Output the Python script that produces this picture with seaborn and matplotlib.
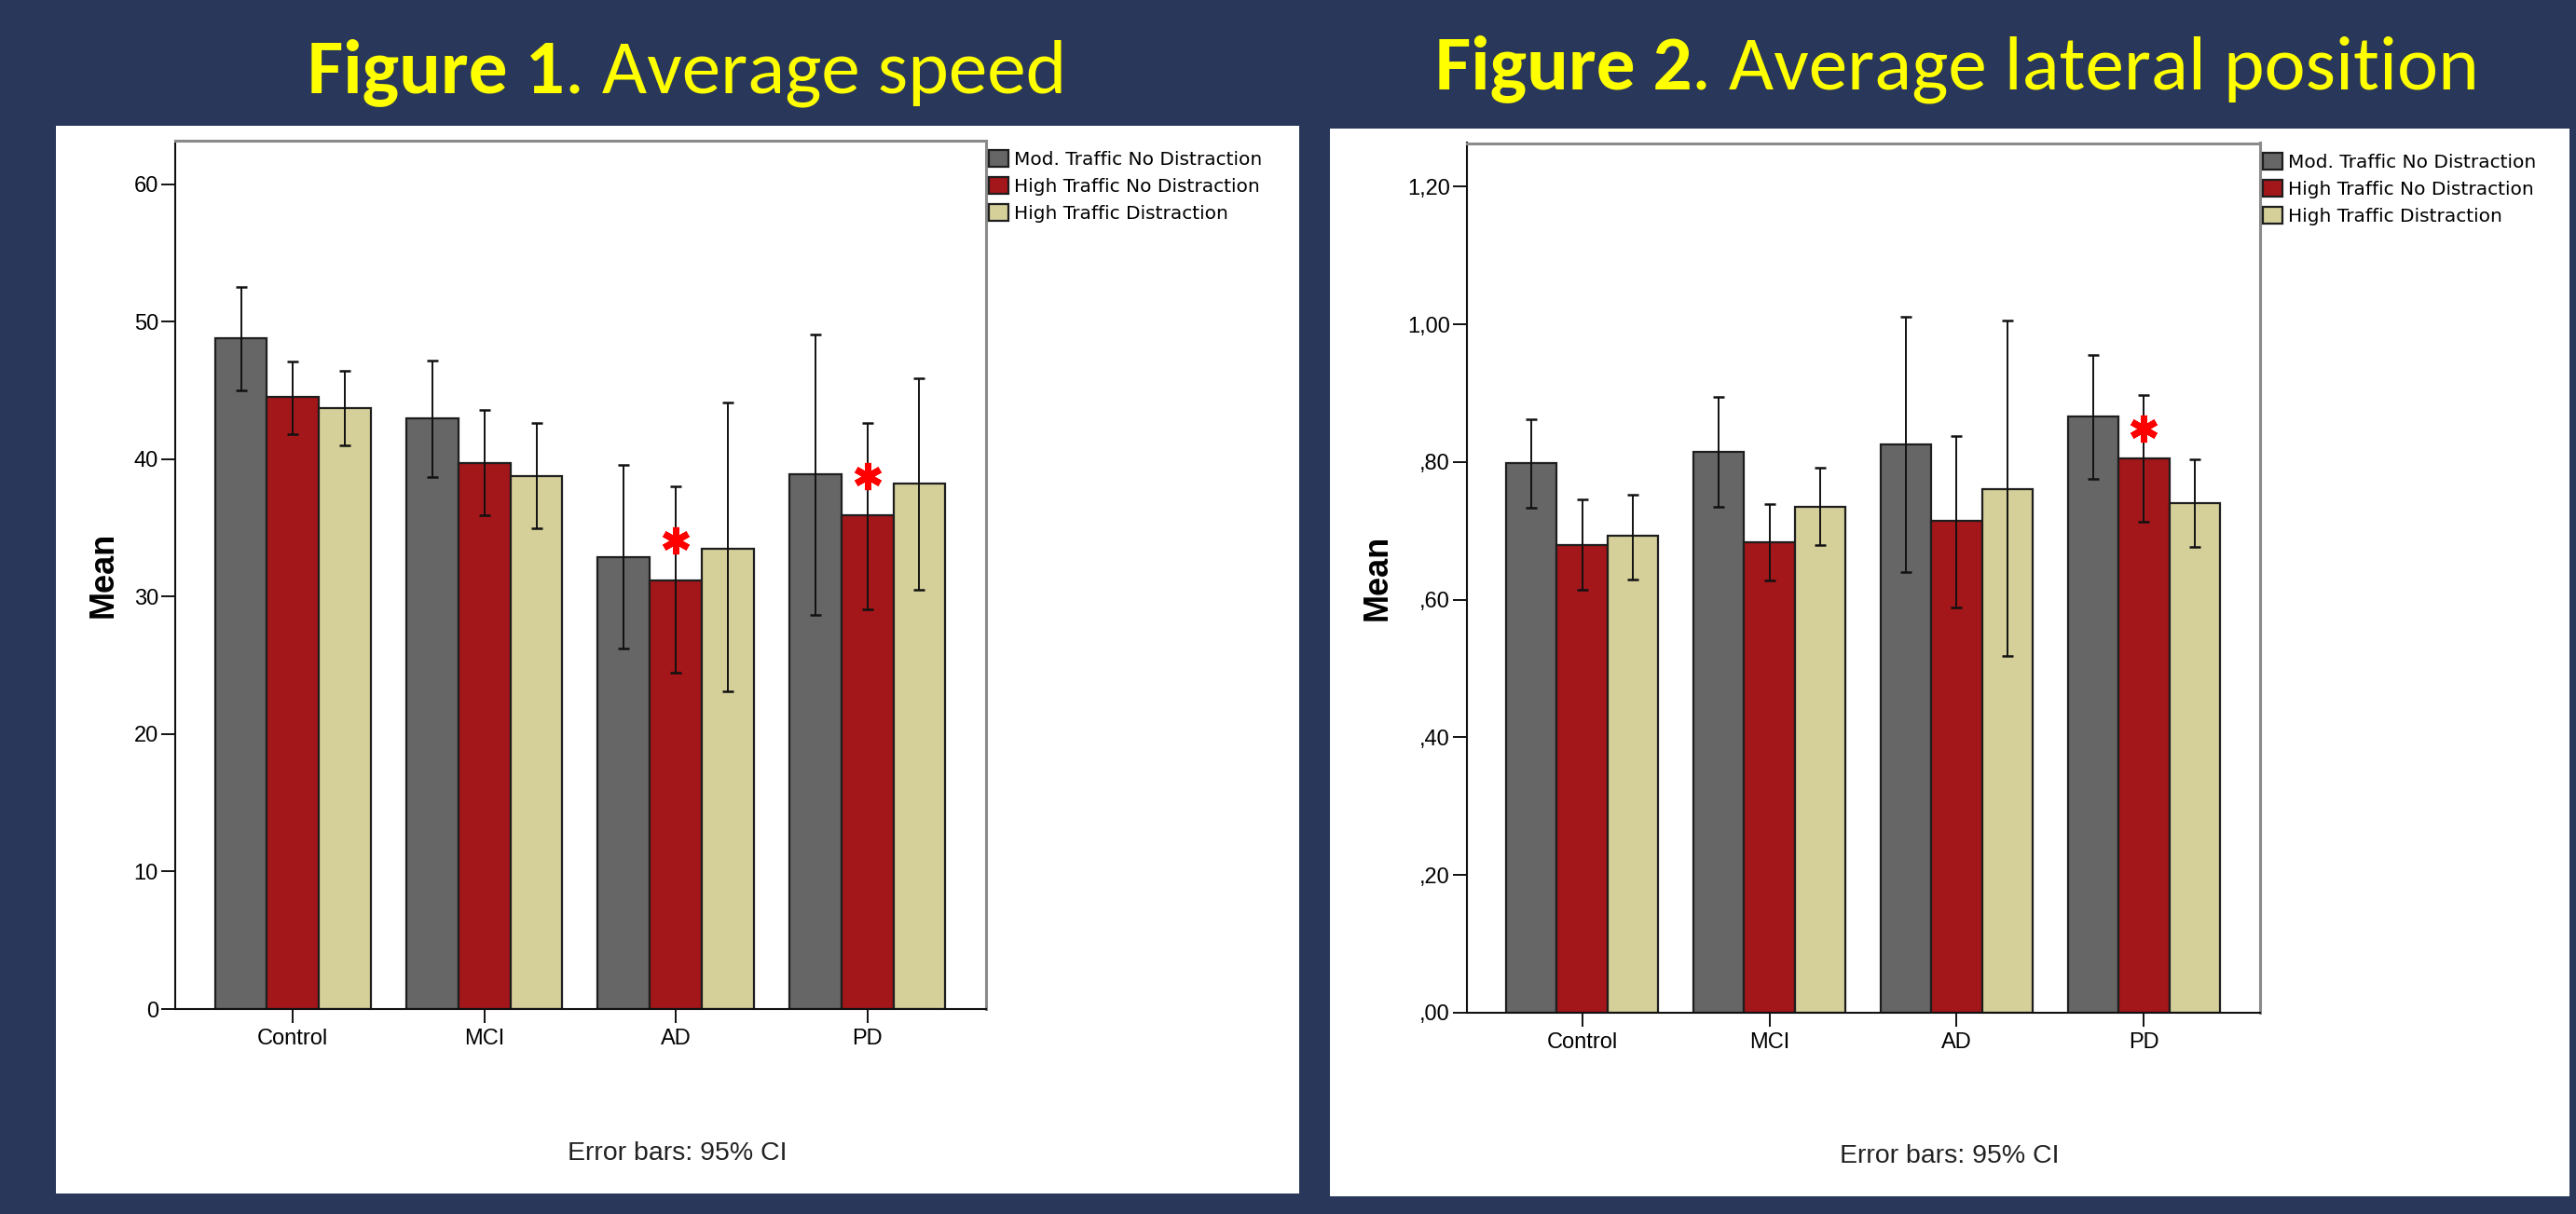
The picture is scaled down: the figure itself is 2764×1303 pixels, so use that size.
import matplotlib
matplotlib.use('Agg')
import matplotlib.pyplot as plt
import seaborn as sns
import pandas as pd
import numpy as np
from matplotlib import font_manager
from matplotlib.patches import Rectangle

groups = ['Control', 'MCI', 'AD', 'PD']
conds = ['Mod. Traffic No Distraction', 'High Traffic No Distraction', 'High Traffic Distraction']

# Figure 1 - average speed (mean, lower / upper 95% CI)
speed_mod = [48.8, 43.0, 32.9, 38.9]
speed_mod_lo = [45.0, 38.7, 26.2, 28.7]
speed_mod_hi = [52.5, 47.2, 39.6, 49.1]
speed_high = [44.5, 39.7, 31.2, 35.9]
speed_high_lo = [41.8, 35.9, 24.5, 29.1]
speed_high_hi = [47.1, 43.6, 38.0, 42.6]
speed_dist = [43.7, 38.8, 33.5, 38.2]
speed_dist_lo = [41.0, 35.0, 23.1, 30.5]
speed_dist_hi = [46.4, 42.6, 44.1, 45.9]
speed_ticks = [0, 10, 20, 30, 40, 50, 60]
speed_ticklabels = ['0', '10', '20', '30', '40', '50', '60']
speed_stars = ['AD', 'PD']

# Figure 2 - average lateral position
lat_mod = [0.798, 0.815, 0.826, 0.866]
lat_mod_lo = [0.733, 0.735, 0.640, 0.775]
lat_mod_hi = [0.862, 0.894, 1.011, 0.956]
lat_high = [0.680, 0.683, 0.714, 0.805]
lat_high_lo = [0.614, 0.628, 0.589, 0.713]
lat_high_hi = [0.746, 0.739, 0.838, 0.898]
lat_dist = [0.693, 0.735, 0.761, 0.740]
lat_dist_lo = [0.630, 0.680, 0.519, 0.677]
lat_dist_hi = [0.753, 0.792, 1.005, 0.804]
lat_ticks = [0.0, 0.2, 0.4, 0.6, 0.8, 1.0, 1.2]
lat_ticklabels = [',00', ',20', ',40', ',60', ',80', '1,00', '1,20']
lat_stars = ['PD']

names = {f.name for f in font_manager.fontManager.ttflist}
NARROW = 'Liberation Sans Narrow' if 'Liberation Sans Narrow' in names else 'Liberation Sans'
TITLE_FONT = 'Carlito' if 'Carlito' in names else 'Lato'
TICK_SIZE = 18 if NARROW == 'Liberation Sans Narrow' else 17
NOTE_SIZE = 23 if NARROW == 'Liberation Sans Narrow' else 20.5

BG = '#28375A'
colors = ['#666666', '#A3161A', '#D5CF99']

W, H = 2764, 1303
fig = plt.figure(figsize=(W / 100, H / 100), dpi=100, facecolor=BG)

# white slide panels
fig.add_artist(Rectangle((60 / W, 1 - 1281 / H), 1334 / W, 1146 / H, transform=fig.transFigure,
                         facecolor='white', edgecolor='none', zorder=-1))
fig.add_artist(Rectangle((1427 / W, 1 - 1284 / H), 1330 / W, 1146 / H, transform=fig.transFigure,
                         facecolor='white', edgecolor='none', zorder=-1))

ax1 = fig.add_axes([188 / W, 1 - 1083 / H, 870 / W, 932.5 / H])
ax2 = fig.add_axes([1574 / W, 1 - 1087 / H, 851 / W, 933.5 / H])


def draw_panel(ax, means, los, his, ytop, ticks, ticklabels, stars, star_gap, label_x):
    df = pd.DataFrame({'group': groups * 3,
                       'cond': [c for c in conds for _ in groups],
                       'mean': means[0] + means[1] + means[2]})
    sns.barplot(data=df, x='group', y='mean', hue='cond', order=groups, hue_order=conds,
                palette=colors, saturation=1, width=0.815, errorbar=None,
                edgecolor='#1e1e1e', linewidth=1.6, legend=False, ax=ax)
    bars = list(ax.containers)
    for i, cont in enumerate(bars):
        xs = [p.get_x() + p.get_width() / 2 for p in cont.patches]
        yerr = [np.subtract(means[i], los[i]), np.subtract(his[i], means[i])]
        ax.errorbar(xs, means[i], yerr=yerr, fmt='none', ecolor='#111111',
                    elinewidth=1.4, capsize=4.5, capthick=1.8, zorder=5)
    # significance asterisks on the high-traffic series
    red = bars[1].patches
    for g in stars:
        p = red[groups.index(g)]
        ax.plot(p.get_x() + p.get_width() / 2, p.get_height() + star_gap,
                marker=(6, 2, 0), markersize=21, mew=5, color='#FF0000', zorder=6)

    ax.set_xlim(-0.615, 3.62)
    ax.set_ylim(0, ytop)
    ax.set_yticks(ticks)
    ax.set_yticklabels(ticklabels, fontfamily=NARROW, fontsize=TICK_SIZE)
    ax.set_xticks(range(len(groups)))
    ax.set_xticklabels(groups, fontfamily=NARROW, fontsize=TICK_SIZE)
    ax.tick_params(axis='both', direction='out', length=11, width=1.4, pad=2, color='#111111')
    ax.tick_params(axis='x', pad=4)
    ax.set_xlabel('')
    ax.set_ylabel('Mean', fontfamily='Liberation Sans', fontweight='bold', fontsize=26)
    ax.yaxis.set_label_coords(label_x, 0.5)
    ax.set_facecolor('white')
    for s in ['left', 'bottom']:
        ax.spines[s].set_color('#111111')
        ax.spines[s].set_linewidth(1.5)
    for s in ['top', 'right']:
        ax.spines[s].set_color('#8a8a8a')
        ax.spines[s].set_linewidth(2.2)

    handles = [c.patches[0] for c in bars]
    ax.legend(handles, conds, loc='upper left', bbox_to_anchor=(1.004, 0.989), frameon=False,
              prop={'family': 'DejaVu Sans', 'size': 14.5}, handlelength=1.0, handleheight=1.0,
              handletextpad=0.3, labelspacing=0.45, borderaxespad=0, borderpad=0)


draw_panel(ax1, [speed_mod, speed_high, speed_dist], [speed_mod_lo, speed_high_lo, speed_dist_lo],
           [speed_mod_hi, speed_high_hi, speed_dist_hi], 63.2, speed_ticks, speed_ticklabels,
           speed_stars, 2.9, -0.068)
draw_panel(ax2, [lat_mod, lat_high, lat_dist], [lat_mod_lo, lat_high_lo, lat_dist_lo],
           [lat_mod_hi, lat_high_hi, lat_dist_hi], 1.2635, lat_ticks, lat_ticklabels,
           lat_stars, 0.044, -0.092)

fig.text(727 / W, 1 - 1238 / H, 'Error bars: 95% CI', fontfamily=NARROW, fontsize=NOTE_SIZE,
         ha='center', va='center', color='#222222')
fig.text(2092 / W, 1 - 1241 / H, 'Error bars: 95% CI', fontfamily=NARROW, fontsize=NOTE_SIZE,
         ha='center', va='center', color='#222222')

# slide titles: bold part + regular part, centred together
renderer = fig.canvas.get_renderer()
for cx, base, bold, rest in [(737, 99, 'Figure 1', '. Average speed'),
                             (2100, 95, 'Figure 2', '. Average lateral position')]:
    t1 = fig.text(0, 1 - base / H, bold, fontfamily=TITLE_FONT, fontweight='bold',
                  fontsize=60, color='#FFFF00', va='baseline')
    t2 = fig.text(0, 1 - base / H, rest, fontfamily=TITLE_FONT, fontsize=60,
                  color='#FFFF00', va='baseline')
    w1 = t1.get_window_extent(renderer).width
    w2 = t2.get_window_extent(renderer).width
    x0 = cx - (w1 + w2) / 2
    t1.set_x(x0 / W)
    t2.set_x((x0 + w1) / W)

fig.savefig('out.png', dpi=100, facecolor=BG)
